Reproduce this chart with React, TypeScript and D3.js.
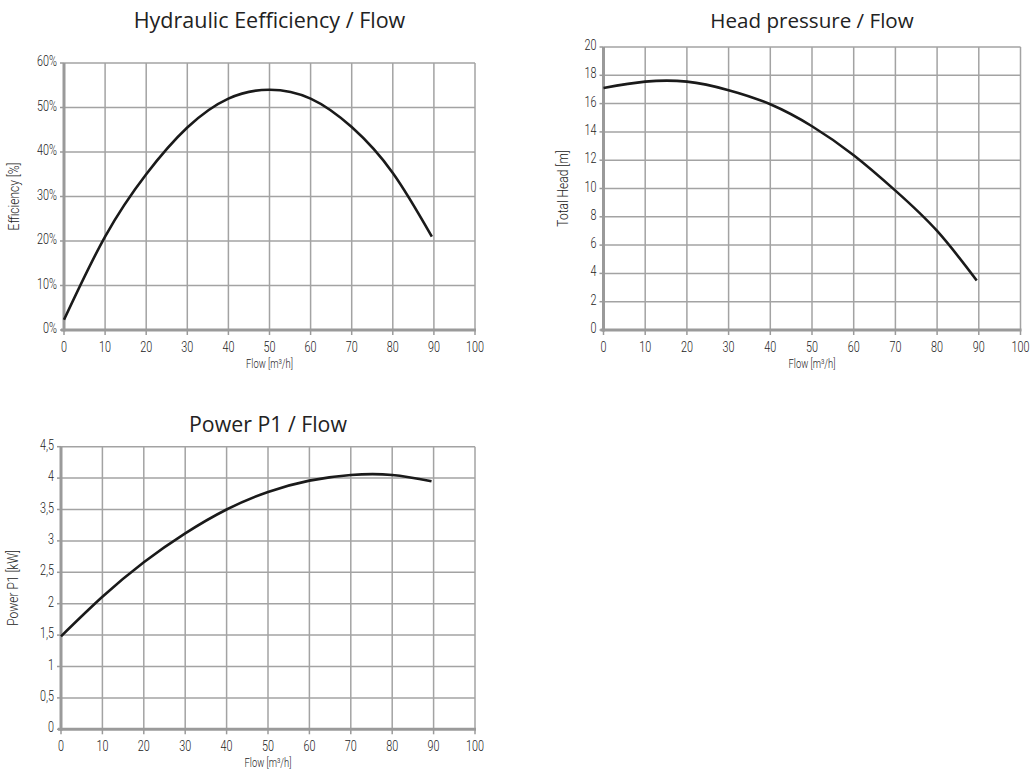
import React from "react";
import * as d3 from "d3";

const flow = [0, 10, 20, 30, 40, 50, 60, 70, 80, 89.5];
const efficiency = [2.3, 21, 35, 45.5, 52, 54, 52, 45.6, 35.3, 21];
const head = [17.1, 17.55, 17.55, 16.95, 15.95, 14.4, 12.35, 9.85, 7.0, 3.5];
const power = [1.48, 2.11, 2.66, 3.12, 3.5, 3.78, 3.96, 4.05, 4.05, 3.95];

const xTicks = [0, 10, 20, 30, 40, 50, 60, 70, 80, 90, 100];
const effTicks = [0, 10, 20, 30, 40, 50, 60];
const effTickLabels = ["0%", "10%", "20%", "30%", "40%", "50%", "60%"];
const headTicks = [0, 2, 4, 6, 8, 10, 12, 14, 16, 18, 20];
const headTickLabels = ["0", "2", "4", "6", "8", "10", "12", "14", "16", "18", "20"];
const powerTicks = [0, 0.5, 1, 1.5, 2, 2.5, 3, 3.5, 4, 4.5];
const powerTickLabels = ["0", "0,5", "1", "1,5", "2", "2,5", "3", "3,5", "4", "4,5"];

const TICK_FONT = "Roboto, 'DejaVu Sans', sans-serif";
const TITLE_FONT = "'Open Sans', 'Noto Sans', sans-serif";

function CText(props: {
  x: number;
  y: number;
  anchor: "start" | "middle" | "end";
  size: number;
  sx?: number;
  rotate?: number;
  children: React.ReactNode;
}) {
  const rot = props.rotate ? ` rotate(${props.rotate})` : "";
  return (
    <text
      transform={`translate(${props.x},${props.y})${rot} scale(${props.sx ?? 0.72},1)`}
      textAnchor={props.anchor}
      fontFamily={TICK_FONT}
      fontWeight={300}
      fontSize={props.size}
      fill="#222"
    >
      {props.children}
    </text>
  );
}

type ChartProps = {
  title: string;
  titleSize: number;
  yLabel: string;
  values: number[];
  yTicks: number[];
  yTickLabels: string[];
  yMax: number;
  x0: number;
  x1: number;
  y0: number;
  y1: number;
  titleY: number;
  yLabelX: number;
};

function Chart(p: ChartProps) {
  const x = d3.scaleLinear().domain([0, 100]).range([p.x0, p.x1]);
  const y = d3.scaleLinear().domain([0, p.yMax]).range([p.y0, p.y1]);
  const line = d3
    .line<number>()
    .x((_, i) => x(flow[i]))
    .y((d) => y(d))
    .curve(d3.curveNatural);
  const grid = "#a3a3a3";
  const axis = "#9a9a9a";
  return (
    <g>
      <text
        x={(p.x0 + p.x1) / 2}
        y={p.titleY}
        textAnchor="middle"
        fontFamily={TITLE_FONT}
        fontSize={p.titleSize}
        fill="#222"
      >
        {p.title}
      </text>
      {xTicks.map((t) => (
        <line key={"gx" + t} x1={x(t)} x2={x(t)} y1={p.y1} y2={p.y0} stroke={grid} strokeWidth={1.5} />
      ))}
      {p.yTicks.map((t) => (
        <line key={"gy" + t} x1={p.x0} x2={p.x1} y1={y(t)} y2={y(t)} stroke={grid} strokeWidth={1.5} />
      ))}
      <line x1={p.x0 - 3} x2={p.x1 + 1} y1={p.y0} y2={p.y0} stroke={axis} strokeWidth={3} />
      <line x1={p.x0} x2={p.x0} y1={p.y1} y2={p.y0 + 1.5} stroke={axis} strokeWidth={3} />
      {xTicks.map((t) => (
        <line key={"tx" + t} x1={x(t)} x2={x(t)} y1={p.y0} y2={p.y0 + 5} stroke={axis} strokeWidth={1.5} />
      ))}
      {p.yTicks.map((t) => (
        <line key={"ty" + t} x1={p.x0 - 4} x2={p.x0} y1={y(t)} y2={y(t)} stroke={axis} strokeWidth={1.5} />
      ))}
      {xTicks.map((t) => (
        <CText key={"lx" + t} x={x(t)} y={p.y0 + 22} anchor="middle" size={15}>
          {t}
        </CText>
      ))}
      {p.yTicks.map((t, i) => (
        <CText key={"ly" + t} x={p.x0 - 7} y={y(t) + 3} anchor="end" size={15}>
          {p.yTickLabels[i]}
        </CText>
      ))}
      <CText x={(p.x0 + p.x1) / 2} y={p.y0 + 38} anchor="middle" size={13}>
        Flow [m³/h]
      </CText>
      <CText x={p.yLabelX} y={(p.y0 + p.y1) / 2} anchor="middle" size={15} sx={0.8} rotate={-90}>
        {p.yLabel}
      </CText>
      <path d={line(p.values) || ""} fill="none" stroke="#1a1a1a" strokeWidth={2.6} />
    </g>
  );
}

export default function App() {
  return (
    <svg
      width={1032}
      height={773}
      style={{ position: "absolute", left: 0, top: 0, background: "#fff" }}
    >
      <Chart
        title="Hydraulic Eefficiency / Flow"
        titleSize={21.5}
        yLabel="Efficiency [%]"
        values={efficiency}
        yTicks={effTicks}
        yTickLabels={effTickLabels}
        yMax={60}
        x0={64}
        x1={475}
        y0={330}
        y1={63}
        titleY={28}
        yLabelX={19}
      />
      <Chart
        title="Head pressure / Flow"
        titleSize={20.6}
        yLabel="Total Head [m]"
        values={head}
        yTicks={headTicks}
        yTickLabels={headTickLabels}
        yMax={20}
        x0={603.5}
        x1={1020.5}
        y0={330}
        y1={47}
        titleY={28}
        yLabelX={568}
      />
      <Chart
        title="Power P1 / Flow"
        titleSize={21.3}
        yLabel="Power P1 [kW]"
        values={power}
        yTicks={powerTicks}
        yTickLabels={powerTickLabels}
        yMax={4.5}
        x0={61}
        x1={475}
        y0={729.3}
        y1={446.7}
        titleY={432}
        yLabelX={18}
      />
    </svg>
  );
}
